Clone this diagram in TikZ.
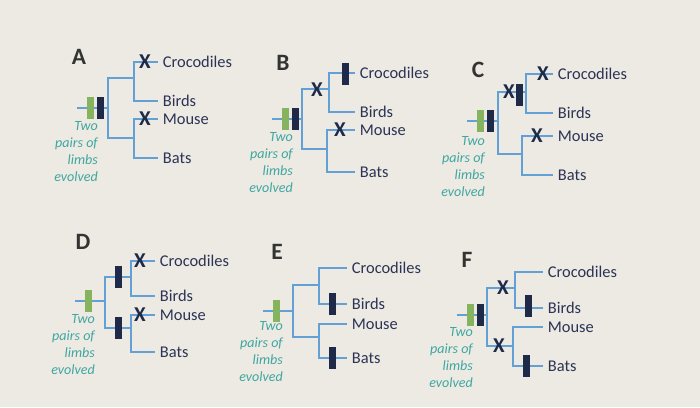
\documentclass[tikz,border=0pt]{standalone}
\usepackage{fontspec}
\setmainfont{Carlito}
\usepackage{xcolor}
\usepackage{tikz}
\definecolor{paper}{HTML}{ECEAE3}
\definecolor{branch}{HTML}{62A0D6}
\definecolor{limbgreen}{HTML}{86B35E}
\definecolor{traitnavy}{HTML}{1E2A48}
\definecolor{tiptext}{HTML}{2C3354}
\definecolor{notetext}{HTML}{3FA7A0}
\tikzset{
  panel/.style={font=\fontsize{20}{22}\selectfont\bfseries, text=black!80, inner sep=0pt},
  tip/.style={anchor=west, font=\fontsize{14}{16}\selectfont, text=tiptext, inner xsep=4pt, inner ysep=1pt},
  branchline/.style={draw=branch, line width=1.6pt},
  limbbar/.style={fill=limbgreen, minimum width=0.21cm, minimum height=0.66cm, inner sep=0pt},
  traitbar/.style={fill=traitnavy, minimum width=0.21cm, minimum height=0.66cm, inner sep=0pt},
  lossmark/.style={font=\fontsize{18}{18}\selectfont\bfseries, text=traitnavy, inner sep=0pt},
  limbnote/.style={anchor=north east, align=right, font=\fontsize{12}{14.5}\selectfont\itshape, text=notetext, inner sep=0pt}
}

\begin{document}
\begin{tikzpicture}[x=0.03cm,y=-0.03cm]
\fill[paper] (0,0) rectangle (700,407);
\useasboundingbox (0,0) rectangle (700,407);

% ---- A
\node[panel] (letA) at (79,57) {A};
\coordinate (sA) at (77,108);
\coordinate (rA) at (108,108);
\coordinate (uA) at (134,78);
\coordinate (lA) at (134,138);
\node[tip] (croA) at (158,62) {Crocodiles};
\node[tip] (birA) at (158,101) {Birds};
\node[tip] (mouA) at (158,119) {Mouse};
\node[tip] (batA) at (158,158) {Bats};
\draw[branchline] (sA) -- (rA);
\draw[branchline] (rA) |- (uA);
\draw[branchline] (rA) |- (lA);
\draw[branchline] (uA) |- (croA.west);
\draw[branchline] (uA) |- (birA.west);
\draw[branchline] (lA) |- (mouA.west);
\draw[branchline] (lA) |- (batA.west);
\node[limbbar] (gA) at (90,108) {};
\node[traitbar] (dA) at (100,108) {};
\node[lossmark] (xA1) at (145,62) {X};
\node[lossmark] (xA2) at (145,119) {X};
\node[limbnote] (nA) at (98,121) {Two\\pairs of\\limbs\\evolved};

% ---- B
\node[panel] (letB) at (283,63) {B};
\coordinate (sB) at (272,119);
\coordinate (rB) at (302,119);
\coordinate (uB) at (329,89);
\coordinate (lB) at (327,149);
\node[tip] (croB) at (355,73) {Crocodiles};
\node[tip] (birB) at (355,112) {Birds};
\node[tip] (mouB) at (355,130) {Mouse};
\node[tip] (batB) at (355,172) {Bats};
\draw[branchline] (sB) -- (rB);
\draw[branchline] (rB) |- (uB);
\draw[branchline] (rB) |- (lB);
\draw[branchline] (uB) |- (croB.west);
\draw[branchline] (uB) |- (birB.west);
\draw[branchline] (lB) |- (mouB.west);
\draw[branchline] (lB) |- (batB.west);
\node[limbbar] (gB) at (285,119) {};
\node[traitbar] (dB) at (295,119) {};
\node[traitbar] (dB2) at (345,74) {};
\node[lossmark] (xB1) at (317,90) {X};
\node[lossmark] (xB2) at (340,130) {X};
\node[limbnote] (nB) at (293,132) {Two\\pairs of\\limbs\\evolved};

% ---- C
\node[panel] (letC) at (478,70) {C};
\coordinate (sC) at (467,121);
\coordinate (rC) at (498,121);
\coordinate (uC) at (526,92);
\coordinate (lC) at (522,154);
\node[tip] (croC) at (553,74) {Crocodiles};
\node[tip] (birC) at (553,113) {Birds};
\node[tip] (mouC) at (553,136) {Mouse};
\node[tip] (batC) at (553,175) {Bats};
\draw[branchline] (sC) -- (rC);
\draw[branchline] (rC) |- (uC);
\draw[branchline] (rC) |- (lC);
\draw[branchline] (uC) |- (croC.west);
\draw[branchline] (uC) |- (birC.west);
\draw[branchline] (lC) |- (mouC.west);
\draw[branchline] (lC) |- (batC.west);
\node[limbbar] (gC) at (480,121) {};
\node[traitbar] (dC) at (490,121) {};
\node[traitbar] (dC2) at (519,95) {};
\node[lossmark] (xC1) at (509,92) {X};
\node[lossmark] (xC2) at (543,74) {X};
\node[lossmark] (xC3) at (537,136) {X};
\node[limbnote] (nC) at (485,136) {Two\\pairs of\\limbs\\evolved};

% ---- D
\node[panel] (letD) at (83,242) {D};
\coordinate (sD) at (75,301);
\coordinate (rD) at (105,301);
\coordinate (uD) at (131,277);
\coordinate (lD) at (131,328);
\node[tip] (croD) at (155,261) {Crocodiles};
\node[tip] (birD) at (155,296) {Birds};
\node[tip] (mouD) at (155,315) {Mouse};
\node[tip] (batD) at (155,352) {Bats};
\draw[branchline] (sD) -- (rD);
\draw[branchline] (rD) |- (uD);
\draw[branchline] (rD) |- (lD);
\draw[branchline] (uD) |- (croD.west);
\draw[branchline] (uD) |- (birD.west);
\draw[branchline] (lD) |- (mouD.west);
\draw[branchline] (lD) |- (batD.west);
\node[limbbar] (gD) at (88,301) {};
\node[traitbar] (dD1) at (118,277) {};
\node[traitbar] (dD2) at (118,328) {};
\node[lossmark] (xD1) at (140,261) {X};
\node[lossmark] (xD2) at (140,315) {X};
\node[limbnote] (nD) at (95,314) {Two\\pairs of\\limbs\\evolved};

% ---- E
\node[panel] (letE) at (277,252) {E};
\coordinate (sE) at (263,311);
\coordinate (rE) at (293,311);
\coordinate (uE) at (319,285);
\coordinate (lE) at (319,337);
\node[tip] (croE) at (347,268) {Crocodiles};
\node[tip] (birE) at (347,304) {Birds};
\node[tip] (mouE) at (347,324) {Mouse};
\node[tip] (batE) at (347,358) {Bats};
\draw[branchline] (sE) -- (rE);
\draw[branchline] (rE) |- (uE);
\draw[branchline] (rE) |- (lE);
\draw[branchline] (uE) |- (croE.west);
\draw[branchline] (uE) |- (birE.west);
\draw[branchline] (lE) |- (mouE.west);
\draw[branchline] (lE) |- (batE.west);
\node[limbbar] (gE) at (276,311) {};
\node[traitbar] (dE1) at (332,304) {};
\node[traitbar] (dE2) at (332,358) {};
\node[limbnote] (nE) at (283,321) {Two\\pairs of\\limbs\\evolved};

% ---- F
\node[panel] (letF) at (467,260) {F};
\coordinate (sF) at (457,315);
\coordinate (rF) at (487,315);
\coordinate (uF) at (515,288);
\coordinate (lF) at (513,346);
\node[tip] (croF) at (543,272) {Crocodiles};
\node[tip] (birF) at (543,308) {Birds};
\node[tip] (mouF) at (543,327) {Mouse};
\node[tip] (batF) at (543,366) {Bats};
\draw[branchline] (sF) -- (rF);
\draw[branchline] (rF) |- (uF);
\draw[branchline] (rF) |- (lF);
\draw[branchline] (uF) |- (croF.west);
\draw[branchline] (uF) |- (birF.west);
\draw[branchline] (lF) |- (mouF.west);
\draw[branchline] (lF) |- (batF.west);
\node[limbbar] (gF) at (470,315) {};
\node[traitbar] (dF) at (480,315) {};
\node[traitbar] (dF2) at (528,306) {};
\node[traitbar] (dF3) at (526,366) {};
\node[lossmark] (xF1) at (503,288) {X};
\node[lossmark] (xF2) at (499,346) {X};
\node[limbnote] (nF) at (473,327) {Two\\pairs of\\limbs\\evolved};

\end{tikzpicture}
\end{document}
